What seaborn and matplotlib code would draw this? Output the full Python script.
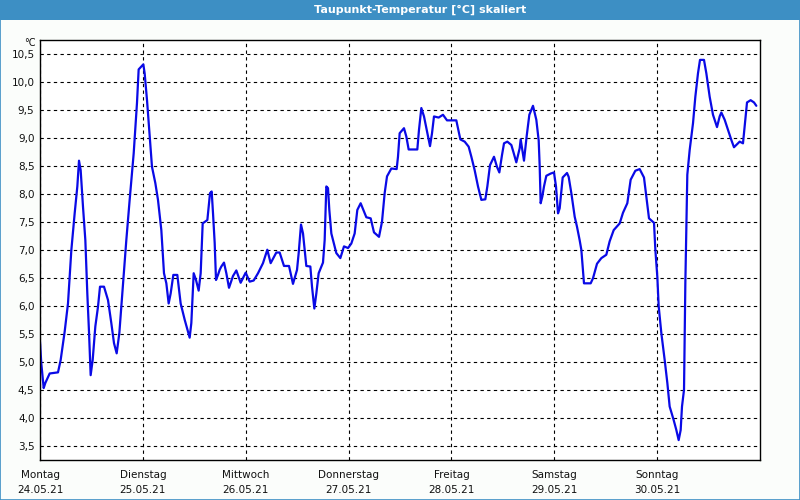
import matplotlib
matplotlib.use("Agg")
import matplotlib.pyplot as plt
import matplotlib.patches as mpatches
import seaborn as sns
import pandas as pd

title = "Taupunkt-Temperatur [°C] skaliert"
unit = "°C"
day_names = ["Montag", "Dienstag", "Mittwoch", "Donnerstag", "Freitag", "Samstag", "Sonntag"]
day_dates = ["24.05.21", "25.05.21", "26.05.21", "27.05.21", "28.05.21", "29.05.21", "30.05.21"]
y_ticks = [3.5, 4.0, 4.5, 5.0, 5.5, 6.0, 6.5, 7.0, 7.5, 8.0, 8.5, 9.0, 9.5, 10.0, 10.5]

hours = [
    0.0, 0.3, 0.86, 1.24, 2.26, 4.2, 4.82, 5.76, 6.53, 7.31, 8.09, 8.71, 9.1, 9.49,
    10.03, 10.58, 11.04, 11.43, 11.82, 12.29, 12.91, 13.53, 14.0, 14.93, 15.87, 16.64,
    17.27, 17.89, 18.51, 19.44, 20.14, 20.92, 21.86, 22.63, 23.02, 23.64, 24.11, 24.42,
    24.97, 25.59, 26.13, 26.91, 27.53, 28.31, 28.93, 29.48, 30.02, 30.49, 31.11, 32.04,
    32.82, 33.76, 34.92, 35.31, 35.86, 36.4, 37.02, 37.49, 37.96, 39.05, 39.67, 40.06,
    40.37, 40.76, 41.07, 41.53, 41.92,
    42.31, 42.93, 43.48, 44.1, 45.03, 45.81, 46.82, 47.99, 48.92, 49.86, 50.87, 52.03,
    53.04, 53.82, 55.14, 55.92, 56.93, 58.1, 59.03, 59.97, 60.36, 60.9, 61.37, 62.14,
    63.08, 63.47, 64.01, 64.48, 65.02, 66.03, 66.42, 66.81, 67.2, 67.51, 67.98, 69.14,
    70.08, 70.93, 71.87, 72.64, 73.42, 74.04, 74.82, 76.14, 77.16, 77.93, 79.1, 79.8,
    80.42, 80.97, 81.98, 83.22, 83.53, 83.92,
    84.93, 85.48, 86.02, 88.04, 88.43, 88.98, 89.6, 90.38, 91.0, 91.47, 91.93, 93.02,
    94.03, 94.97, 97.14, 98.08, 99.09, 100.02, 100.65, 101.42, 102.2, 102.98, 103.91,
    104.38, 105.0, 105.93, 106.63, 107.18, 107.8, 108.27, 109.04, 109.98, 110.44,
    111.14, 111.92, 112.16, 112.93, 113.56, 114.18, 115.03, 115.81, 116.36, 116.59,
    116.82, 117.21, 117.6, 118.14, 119.16, 119.93, 120.4, 120.87, 121.26, 121.96,
    122.97, 123.36, 123.98, 124.76, 125.3, 125.92,
    126.31, 126.93, 128.49, 129.03, 129.97, 130.98, 132.14, 132.92, 133.86, 135.26,
    136.03, 137.04, 137.82, 138.91, 139.92, 140.93, 141.48, 142.1, 143.27, 143.58,
    144.04, 144.36, 144.98, 145.76, 146.38, 146.92, 147.85, 148.48, 149.02, 149.49,
    149.8, 150.27, 150.42, 150.58, 150.81, 151.04, 151.59, 152.37, 152.91, 153.53,
    154.0, 154.93, 155.48, 156.26, 157.03, 157.97, 158.59, 158.98, 159.76, 160.53,
    161.31, 161.93, 162.71, 163.26, 164.03, 164.42, 164.97, 165.82, 166.6, 167.14,
]
dewpoint = [
    5.37, 4.98, 4.54, 4.63, 4.80, 4.82, 5.04, 5.55, 6.05, 7.0, 7.66, 8.14, 8.60, 8.43,
    7.78, 7.18, 6.23, 5.55, 4.77, 5.04, 5.64, 5.99, 6.35, 6.35, 6.11, 5.70,
    5.34, 5.16, 5.52, 6.47, 7.18, 7.90, 8.73, 9.63, 10.23, 10.28, 10.32, 10.16,
    9.68, 9.03, 8.49, 8.20, 7.90, 7.36, 6.59, 6.41, 6.05, 6.23, 6.56, 6.56,
    6.05, 5.76, 5.44, 5.70, 6.59, 6.47, 6.28, 6.59, 7.48, 7.54, 8.02, 8.05,
    7.66, 7.13, 6.47, 6.56, 6.65,
    6.71, 6.78, 6.59, 6.33, 6.54, 6.64, 6.42, 6.60, 6.44, 6.46, 6.59, 6.77,
    7.01, 6.77, 6.96, 6.96, 6.72, 6.72, 6.40, 6.65, 6.95, 7.46, 7.30, 6.72,
    6.71, 6.35, 5.96, 6.23, 6.59, 6.78, 7.18, 8.14, 8.11, 7.72, 7.30, 6.95,
    6.86, 7.07, 7.04, 7.12, 7.30, 7.72, 7.84, 7.59, 7.57, 7.32, 7.24, 7.51,
    8.02, 8.32, 8.46, 8.45, 8.67, 9.09,
    9.18, 9.03, 8.80, 8.80, 9.15, 9.54, 9.39, 9.09, 8.86, 9.09, 9.39, 9.37,
    9.42, 9.32, 9.32, 8.98, 8.94, 8.85, 8.67, 8.43, 8.14, 7.90, 7.91,
    8.14, 8.52, 8.67, 8.49, 8.39, 8.70, 8.91, 8.94, 8.88, 8.76,
    8.57, 8.82, 8.98, 8.60, 9.04, 9.42, 9.58, 9.33, 8.96, 8.51,
    7.84, 7.96, 8.14, 8.33, 8.37, 8.39, 8.14, 7.66, 7.75, 8.30,
    8.38, 8.31, 8.02, 7.60, 7.42, 7.18,
    7.01, 6.41, 6.41, 6.50, 6.76, 6.86, 6.92, 7.16, 7.36, 7.48,
    7.67, 7.84, 8.26, 8.42, 8.45, 8.30, 7.96, 7.57, 7.49, 7.01,
    6.53, 6.00, 5.52, 5.04, 4.63, 4.21, 3.97, 3.79, 3.61, 3.79,
    4.21, 4.51, 5.40, 6.41, 7.36, 8.35, 8.79, 9.27, 9.74, 10.16,
    10.40, 10.40, 10.16, 9.74, 9.42, 9.20, 9.39, 9.46, 9.33, 9.15,
    8.97, 8.84, 8.90, 8.94, 8.91, 9.21, 9.64, 9.68, 9.64, 9.58,
]

df = pd.DataFrame({"Stunde": hours, "Taupunkt": dewpoint})

sns.set_theme(style="white")
plt.rcParams["font.family"] = ["DejaVu Sans"]

fig = plt.figure(figsize=(8, 5), dpi=100, facecolor="#fbfdfb")
ax = fig.add_axes([0.05, 0.08, 0.90, 0.84])
ax.set_facecolor("white")

sns.lineplot(data=df, x="Stunde", y="Taupunkt", ax=ax, color="#0a0ae6",
             linewidth=1.6, estimator=None, sort=False)

ax.set_xlim(0, 168)
ax.set_ylim(3.255, 10.755)
ax.set_yticks(y_ticks)
ax.set_yticklabels([f"{v:.1f}".replace(".", ",") for v in y_ticks], fontsize=7.5)
ax.set_xticks([24 * i for i in range(7)])
ax.set_xticklabels([f"{n}\n{d}" for n, d in zip(day_names, day_dates)],
                   fontsize=7.5, linespacing=1.6)
ax.tick_params(axis="y", length=0, pad=4, colors="#111111")
ax.tick_params(axis="x", length=0, pad=7.5, colors="#111111")
ax.set_xlabel("")
ax.set_ylabel("")
ax.grid(True, color="black", linestyle=(0, (3, 3)), linewidth=0.8)
for s in ax.spines.values():
    s.set_visible(True)
    s.set_color("black")
    s.set_linewidth(1.0)

fig.text(0.045, 0.914, unit, ha="right", va="center", fontsize=7, color="#111111")

# title bar
fig.patches.append(mpatches.Rectangle((0, 0.96), 1, 0.04, transform=fig.transFigure,
                                      facecolor="#3d8fc4", edgecolor="none", zorder=0))
fig.patches.append(mpatches.Rectangle((0.0006, 0.001), 0.9988, 0.998, transform=fig.transFigure,
                                      facecolor="none", edgecolor="#3d8fc4", linewidth=1.2, zorder=5))
fig.text(0.525, 0.98, title, ha="center", va="center", fontsize=8, color="white",
         fontweight="bold")

fig.savefig("out.png", dpi=100, facecolor=fig.get_facecolor())
